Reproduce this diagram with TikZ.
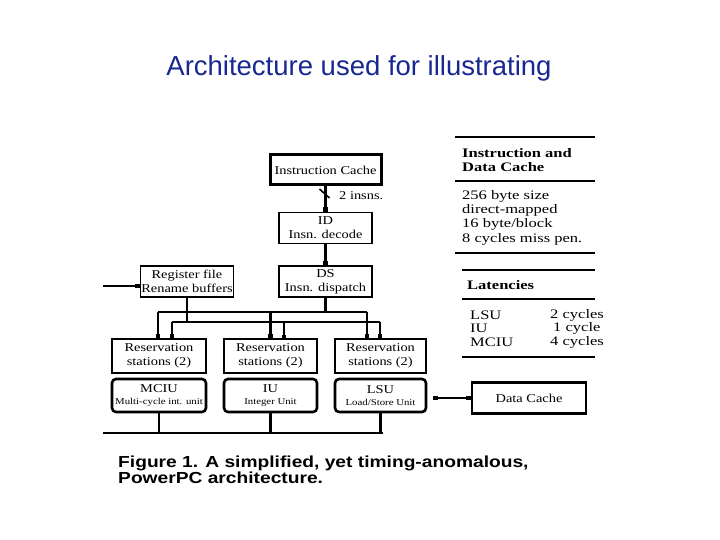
\documentclass[tikz,border=0pt]{standalone}
\usepackage{fontspec}
\usepackage{graphicx}
\setmainfont{Liberation Serif}
\newfontfamily\capsans{Liberation Sans}
\usetikzlibrary{arrows.meta}
\definecolor{titleblue}{RGB}{25,40,145}
\newcommand\sx[1]{\scalebox{1.2}[1]{#1}}
\newcommand\tx[1]{\scalebox{1.27}[1]{#1}}
\begin{document}
\begin{tikzpicture}[x=1pt,y=-1pt,
  fig/.style={font=\fontsize{12}{14}\selectfont, inner sep=0pt, align=center},
  thinbox/.style={fig, draw, line width=1.6pt, minimum width=93pt, minimum height=31pt},
  thickbox/.style={fig, draw, line width=3pt, minimum height=30pt},
  rsbox/.style={fig, draw, line width=2pt, minimum height=34pt},
  unitbox/.style={fig, draw, line width=2.6pt, rounded corners=4pt, minimum height=33pt},
  bus/.style={line width=2.2pt},
  sq/.style={bus, -{Square[length=4.5pt,width=4.5pt]}},
  rule/.style={line width=1.5pt},
  tabtxt/.style={font=\fontsize{13}{14}\selectfont, inner sep=0pt, anchor=west},
]
\path[use as bounding box] (0,0) rectangle (720,540);

% title
\node[font=\capsans\fontsize{27.5}{32}\selectfont, text=titleblue] (title) at (359,68) {Architecture used for illustrating};

% main boxes
\node[thickbox, minimum width=111pt] (IC) at (325.5,170) {\sx{Instruction Cache}};
\node[thinbox] (ID) at (325.5,228) {\sx{ID}\\\sx{Insn. decode}};
\node[thinbox] (DS) at (325.5,281.5) {\sx{DS}\\\sx{Insn. dispatch}};
\node[thinbox] (RF) at (187,281.5) {\sx{Register file}\\\sx{Rename buffers}};

\node[rsbox, minimum width=94pt] (RS1) at (159,356) {\sx{Reservation}\\\sx{stations (2)}};
\node[rsbox, minimum width=93pt] (RS2) at (270.5,356) {\sx{Reservation}\\\sx{stations (2)}};
\node[rsbox, minimum width=91pt] (RS3) at (380.5,356) {\sx{Reservation}\\\sx{stations (2)}};

\node[unitbox, minimum width=94pt] (U1) at (159,395.5) {\sx{MCIU}\\[-2pt]{\fontsize{9}{10}\selectfont\sx{Multi-cycle int. unit}}};
\node[unitbox, minimum width=93pt] (U2) at (270.5,395.5) {\sx{IU}\\[-2pt]{\fontsize{9}{10}\selectfont\sx{Integer Unit}}};
\node[unitbox, minimum width=91pt] (U3) at (380.5,395.5) {\sx{LSU}\\[-2pt]{\fontsize{9}{10}\selectfont\sx{Load/Store Unit}}};

\node[fig, draw, line width=2.6pt, minimum width=114pt, minimum height=31pt] (DC) at (529,398) {\sx{Data Cache}};

% IC -> ID with slash
\draw[sq] (IC.south) -- (ID.north);
\coordinate (sl) at (325.5,194);
\draw[line width=1.6pt] ([shift={(-6,-5)}]sl) -- ([shift={(4,4)}]sl);
\node[fig, anchor=west] (ins) at (339,196) {\sx{2 insns.}};

% ID -> DS
\draw[sq] (ID.south) -- (DS.north);

% input to register file
\coordinate (rfin) at (103,286);
\draw[line width=2.8pt, -{Square[length=4.5pt,width=4.5pt]}] (rfin) -- (rfin -| RF.west);

% dispatch buses
\coordinate (ub1) at (158,312);
\coordinate (ub3) at (367,312);
\coordinate (lb1) at (172,322);
\coordinate (lb3) at (380,322);
\draw[bus] (ub1) -- (ub3);
\draw[bus] (lb1) -- (lb3);
\draw[bus] (DS.south) -- (DS.south |- ub1);
\draw[bus] (RF.south) -- (RF.south |- lb1);
\draw[sq] (ub1) -- (ub1 |- RS1.north);
\draw[sq] (lb1) -- (lb1 |- RS1.north);
\draw[sq] (RS2.north |- ub1) -- (RS2.north);
\draw[sq] (284,322) -- (284,339);
\draw[sq] (ub3) -- (ub3 |- RS3.north);
\draw[sq, line width=2.8pt] (lb3) -- (lb3 |- RS3.north);

% result bus
\coordinate (busL) at (103,433);
\coordinate (busR) at (383,433);
\draw[bus] (busL) -- (busR);
\draw[bus] (U1.south) -- (U1.south |- busL);
\draw[bus] (U2.south) -- (U2.south |- busL);
\draw[bus] (U3.south) -- (U3.south |- busL);

% LSU <-> Data Cache
\draw[line width=1.3pt, {Square[length=4.5pt,width=4.5pt]}-{Square[length=4.5pt,width=4.5pt]}, shorten <=6pt] (U3.east |- DC.west) -- (DC.west);

% right tables
\coordinate (t1a) at (455,137); \coordinate (t1b) at (595,137);
\draw[line width=2.6pt] (t1a) -- (t1b);
\node[tabtxt, font=\fontsize{13}{14}\selectfont\bfseries] (h1a) at (462,153) {\tx{Instruction and}};
\node[tabtxt, font=\fontsize{13}{14}\selectfont\bfseries] (h1b) at (462,167) {\tx{Data Cache}};
\coordinate (t2a) at (455,181); \coordinate (t2b) at (595,181);
\draw[rule] (t2a) -- (t2b);
\node[tabtxt] (c1) at (462,196) {\tx{256 byte size}};
\node[tabtxt] (c2) at (462,210) {\tx{direct-mapped}};
\node[tabtxt] (c3) at (462,224) {\tx{16 byte/block}};
\node[tabtxt] (c4) at (462,239) {\tx{8 cycles miss pen.}};
\coordinate (t3a) at (455,253); \coordinate (t3b) at (595,253);
\draw[rule] (t3a) -- (t3b);

\coordinate (t4a) at (462,270); \coordinate (t4b) at (595,270);
\draw[rule] (t4a) -- (t4b);
\node[tabtxt, font=\fontsize{13}{14}\selectfont\bfseries] (h2) at (467,285) {\tx{Latencies}};
\coordinate (t5a) at (462,299); \coordinate (t5b) at (595,299);
\draw[rule] (t5a) -- (t5b);
\node[tabtxt] (l1) at (470,315) {\tx{LSU}};
\node[tabtxt] (l2) at (470,328) {\tx{IU}};
\node[tabtxt] (l3) at (470,342) {\tx{MCIU}};
\node[tabtxt] (v1) at (550,315) {\tx{2 cycles}};
\node[tabtxt] (v2) at (553,328) {\tx{1 cycle}};
\node[tabtxt] (v3) at (550,342) {\tx{4 cycles}};
\coordinate (t6a) at (462,357); \coordinate (t6b) at (595,357);
\draw[rule] (t6a) -- (t6b);

% caption
\node[anchor=west, inner sep=0pt, align=left, font=\capsans\bfseries\fontsize{16}{16}\selectfont] (cap) at (118,470) {\sx{Figure 1. A simplified, yet timing-anomalous,}\\\sx{PowerPC architecture.}};
\end{tikzpicture}
\end{document}
